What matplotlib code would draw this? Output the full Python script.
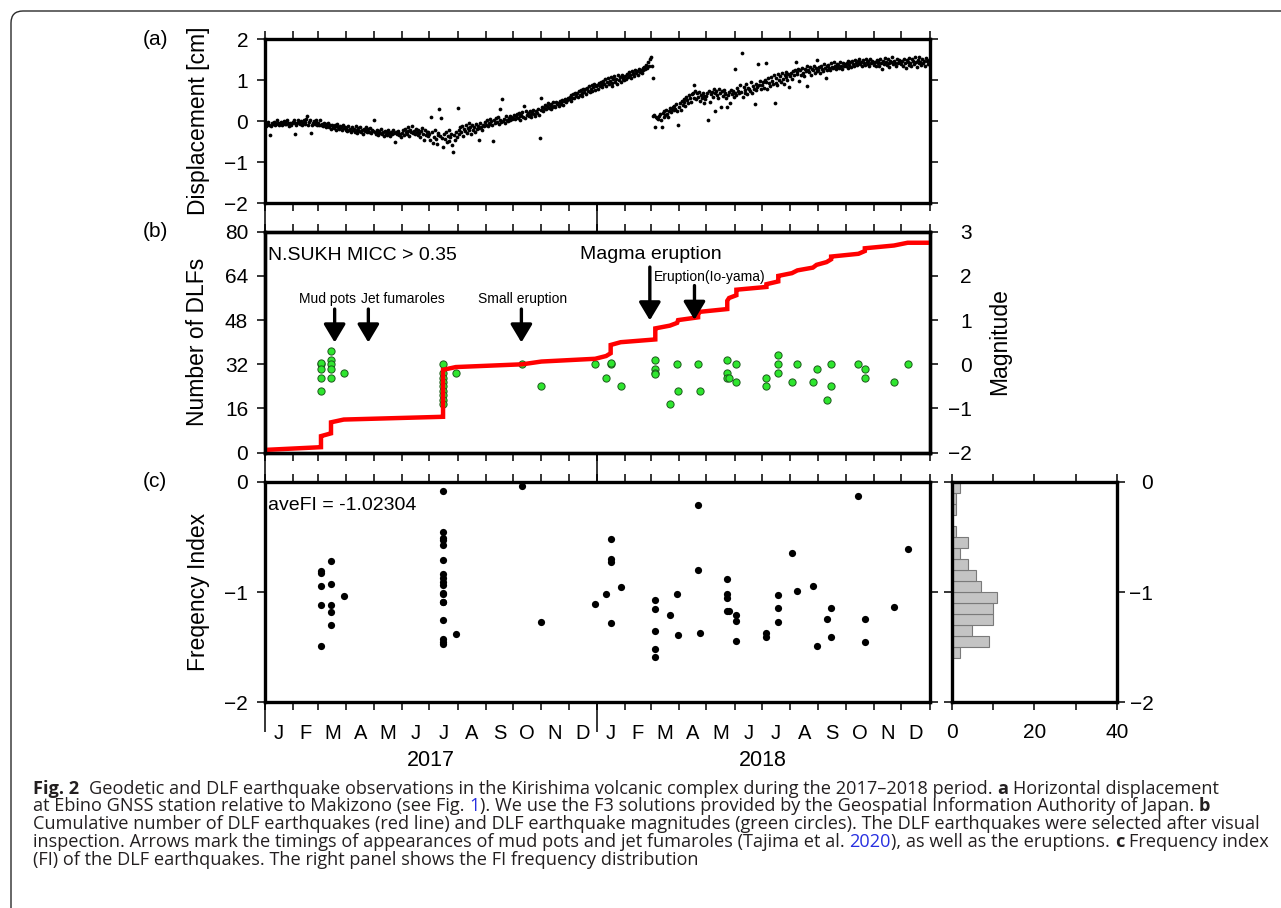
import numpy as np
import matplotlib
matplotlib.use("Agg")
import matplotlib.pyplot as plt
import matplotlib.dates as mdates
import matplotlib.transforms as mtransforms
from matplotlib.ticker import FixedLocator, NullFormatter
from matplotlib.patches import FancyBboxPatch

# ---------------------------------------------------------------- data
# (a) daily horizontal displacement [cm], one list per month
disp_2017_01 = [-0.10,-0.04,-0.12,-0.06,-0.02,-0.08,-0.33,-0.11,-0.03,-0.07,-0.01,-0.09,-0.04,-0.06,0.02,-0.05,-0.08,-0.03,-0.01,-0.10,-0.04,0.01,-0.06,-0.02,-0.07,0.03,-0.05,-0.12,-0.03,-0.08,-0.04]
disp_2017_02 = [-0.02,0.03,-0.05,-0.32,-0.08,-0.03,0.04,-0.01,-0.06,0.00,-0.10,-0.04,0.02,-0.07,-0.02,0.05,0.14,-0.09,-0.01,0.02,-0.28,-0.08,-0.03,0.01,-0.06,0.04,-0.02,-0.10]
disp_2017_03 = [-0.04,-0.08,0.02,-0.10,-0.06,-0.12,-0.03,-0.09,-0.14,-0.07,-0.11,-0.05,-0.15,-0.10,-0.18,-0.08,-0.13,-0.16,-0.09,-0.20,-0.12,-0.07,-0.15,-0.19,-0.11,-0.14,-0.22,-0.10,-0.17,-0.13,-0.20]
disp_2017_04 = [-0.16,-0.24,-0.12,-0.21,-0.18,-0.27,-0.14,-0.22,-0.19,-0.25,-0.11,-0.20,-0.28,-0.17,-0.23,-0.15,-0.26,-0.21,-0.30,-0.18,-0.24,-0.13,-0.22,-0.27,-0.19,-0.25,-0.16,-0.29,-0.21,-0.24]
disp_2017_05 = [0.04,-0.25,-0.30,-0.21,-0.28,-0.34,-0.24,-0.29,-0.19,-0.32,-0.26,-0.36,-0.23,-0.30,-0.27,-0.33,-0.22,-0.29,-0.35,-0.25,-0.31,-0.20,-0.28,-0.50,-0.26,-0.32,-0.29,-0.24,-0.34,-0.30,-0.38]
disp_2017_06 = [-0.28,-0.22,-0.33,-0.18,-0.26,-0.30,-0.15,-0.24,-0.35,-0.20,-0.27,-0.12,-0.29,-0.23,-0.31,-0.19,-0.26,-0.34,-0.21,-0.28,-0.38,-0.24,-0.17,-0.30,-0.45,-0.22,-0.33,-0.27,-0.36,-0.25]
disp_2017_07 = [-0.30,-0.45,0.10,-0.25,-0.52,-0.38,-0.20,-0.42,-0.55,-0.33,-0.28,0.30,-0.36,0.08,-0.40,-0.62,-0.31,-0.44,-0.26,-0.50,-0.35,-0.22,-0.47,-0.38,-0.30,-0.57,-0.75,-0.33,-0.46,-0.27,-0.39]
disp_2017_08 = [0.32,-0.22,-0.30,-0.15,-0.26,-0.12,-0.35,-0.19,-0.24,-0.10,-0.28,-0.17,-0.05,-0.22,-0.14,-0.30,-0.09,-0.20,-0.13,-0.25,-0.07,-0.18,-0.11,-0.45,-0.16,-0.04,-0.14,-0.21,-0.08,-0.12,-0.02]
disp_2017_09 = [-0.08,0.02,-0.12,-0.03,0.05,-0.07,0.00,-0.10,-0.48,0.03,-0.04,0.08,-0.01,0.11,-0.06,0.04,0.30,-0.02,0.55,0.01,0.06,-0.03,0.12,0.04,0.00,0.08,0.14,0.02,0.10,0.05]
disp_2017_10 = [0.08,0.15,0.05,0.12,0.18,0.09,0.20,0.14,0.03,0.16,0.22,0.11,0.38,0.07,0.24,0.15,0.21,0.12,0.26,0.17,0.10,0.23,0.28,0.18,0.14,0.25,0.20,0.30,0.16,-0.41,0.58]
disp_2017_11 = [0.28,0.35,0.25,0.32,0.40,0.30,0.37,0.44,0.33,0.39,0.29,0.42,0.36,0.46,0.38,0.34,0.48,0.41,0.45,0.37,0.50,0.43,0.47,0.52,0.40,0.49,0.55,0.46,0.51,0.58]
disp_2017_12 = [0.54,0.60,0.50,0.63,0.58,0.66,0.56,0.70,0.62,0.68,0.59,0.73,0.65,0.76,0.69,0.62,0.78,0.72,0.80,0.67,0.82,0.75,0.85,0.71,0.79,0.88,0.74,0.83,0.90,0.77,0.86]
disp_2018_01 = [0.88,0.80,0.93,0.85,0.97,0.90,0.83,0.99,0.92,1.03,0.87,0.95,1.05,0.91,0.98,1.08,0.94,0.86,1.02,1.10,0.96,1.04,0.92,1.12,1.00,1.07,0.97,1.14,1.03,1.09,1.01]
disp_2018_02 = [1.10,1.04,1.16,1.08,1.20,1.13,1.06,1.22,1.15,1.19,1.11,1.25,1.17,1.23,1.14,1.28,1.20,1.26,1.18,1.30,1.24,1.33,1.27,1.38,1.31,1.45,1.36,1.52]
disp_2018_03 = [1.58,1.35,1.05,0.12,0.15,-0.15,0.10,0.08,0.05,0.14,0.18,0.02,-0.14,0.20,0.11,0.24,0.16,0.28,0.19,0.10,0.26,0.33,0.22,0.30,0.36,0.27,0.38,0.31,0.42,0.25,-0.09]
disp_2018_04 = [0.35,0.45,0.28,0.50,0.40,0.55,0.47,0.38,0.60,0.52,0.44,0.63,0.56,0.48,0.66,0.70,0.58,0.88,0.75,0.54,0.68,0.60,0.72,0.50,0.65,0.58,0.70,0.45,0.62,0.55]
disp_2018_05 = [0.62,0.70,0.03,0.74,0.48,0.66,0.72,0.60,0.78,0.24,0.69,0.75,0.63,0.57,0.80,0.68,0.35,0.73,0.61,0.77,0.66,0.70,0.58,0.34,0.64,0.71,0.45,0.76,0.67,0.73,0.60]
disp_2018_06 = [0.70,1.28,0.64,0.82,0.74,0.68,0.88,0.72,1.66,0.60,0.84,0.76,0.70,0.90,0.66,0.82,0.78,0.74,0.95,0.70,0.86,0.80,0.42,0.76,0.92,0.84,1.40,0.88,0.98,0.80]
disp_2018_07 = [0.88,0.95,0.82,1.00,1.41,0.97,0.78,1.05,0.93,0.86,1.08,0.98,0.91,1.12,0.44,0.94,1.06,0.89,1.15,1.00,1.10,0.96,1.18,1.04,0.92,1.13,1.07,1.20,1.01,1.16,0.83]
disp_2018_08 = [1.10,1.18,1.04,1.22,1.12,1.26,1.44,1.20,1.15,1.28,0.98,1.24,1.14,1.30,1.19,1.11,1.27,1.22,1.35,0.87,1.25,1.20,1.32,1.13,1.28,1.24,1.36,1.18,1.30,1.22,1.50]
disp_2018_09 = [1.25,1.32,1.18,1.36,1.28,1.22,1.40,1.30,1.05,1.34,1.26,1.38,1.31,1.24,1.42,1.33,1.29,1.45,1.35,1.27,1.40,1.32,1.37,1.30,1.44,1.36,1.28,1.41,1.34,1.39]
disp_2018_10 = [1.36,1.42,1.31,1.46,1.38,1.44,1.33,1.48,1.40,1.35,1.50,1.42,1.37,1.47,1.41,1.52,1.39,1.45,1.34,1.49,1.43,1.38,1.51,1.44,1.40,1.47,1.36,1.53,1.42,1.48,1.45]
disp_2018_11 = [1.38,1.45,1.34,1.50,1.41,1.47,1.36,1.53,1.43,1.28,1.48,1.40,1.55,1.44,1.38,1.51,1.42,1.33,1.48,1.45,1.56,1.39,1.47,1.43,1.35,1.52,1.41,1.49,1.44,1.46]
disp_2018_12 = [1.40,1.48,1.36,1.53,1.43,1.31,1.50,1.45,1.38,1.55,1.42,1.34,1.51,1.46,1.39,1.56,1.44,1.32,1.49,1.41,1.58,1.45,1.37,1.52,1.43,1.48,1.35,1.54,1.46,1.40,1.50]

# (b)/(c) DLF events: date, frequency index, magnitude (nan = not shown)
event_dates = (["2017-03-04"] * 5 + ["2017-03-15"] * 5 + ["2017-03-29"] + ["2017-07-16"] * 18
               + ["2017-07-30", "2017-10-11", "2017-11-01", "2017-12-30", "2018-01-11"]
               + ["2018-01-16"] * 4 + ["2018-01-27"] + ["2018-03-06"] * 5
               + ["2018-03-22", "2018-03-30", "2018-03-31"] + ["2018-04-22"] * 2 + ["2018-04-24"]
               + ["2018-05-24"] * 4 + ["2018-05-26"] + ["2018-06-03"] * 3 + ["2018-07-06"] * 2
               + ["2018-07-19"] * 3 + ["2018-08-03", "2018-08-09", "2018-08-26", "2018-08-30", "2018-09-10"]
               + ["2018-09-15"] * 2 + ["2018-10-15"] + ["2018-10-22"] * 2 + ["2018-11-23", "2018-12-08"])
event_fi = [-0.81, -0.83, -0.95, -1.12, -1.49,
            -0.72, -0.93, -1.12, -1.18, -1.295,
            -1.04,
            -0.08, -0.46, -0.51, -0.53, -0.57, -0.71, -0.84, -0.87, -0.905, -0.94, -1.005, -1.02, -1.09, -1.09, -1.25, -1.43, -1.45, -1.47,
            -1.38, -0.04, -1.27, -1.105, -1.015,
            -0.52, -0.705, -0.73, -1.28,
            -0.955,
            -1.07, -1.15, -1.35, -1.52, -1.59,
            -1.21, -1.02, -1.39,
            -0.21, -0.805,
            -1.375,
            -0.885, -1.02, -1.05, -1.17,
            -1.17,
            -1.205, -1.26, -1.44,
            -1.37, -1.405,
            -1.03, -1.145, -1.27,
            -0.644, -0.99, -0.95, -1.49, -1.245,
            -1.145, -1.41,
            -0.133,
            -1.245, -1.45,
            -1.133, -0.61]
nan = float("nan")
event_mag = [0.0, 0.02, -0.1, -0.3, -0.6,
             0.3, 0.1, 0.0, -0.1, -0.3,
             -0.2,
             0.0, -0.2, -0.3, -0.4, -0.5, -0.6, -0.7, -0.8, -0.9, nan, nan, nan, nan, nan, nan, nan, nan, nan,
             -0.2, 0.0, -0.5, 0.0, -0.3,
             0.0, 0.02, nan, nan,
             -0.5,
             0.1, -0.1, -0.2, -0.22, nan,
             -0.9, 0.0, -0.6,
             0.0, nan,
             -0.6,
             0.1, -0.2, nan, -0.3,
             -0.3,
             0.0, -0.4, nan,
             -0.3, -0.5,
             0.2, 0.0, -0.2,
             -0.4, 0.0, -0.4, -0.1, -0.8,
             0.0, -0.5,
             0.0,
             -0.1, -0.3,
             -0.4, 0.0]
count_before_2017 = 1
ave_fi_text = "aveFI = -1.02304"

# arrows in panel (b)
arrow_labels = ["Mud pots", "Jet fumaroles", "Small eruption", "Magma eruption", "Eruption(Io-yama)"]
arrow_dates = ["2017-03-19", "2017-04-25", "2017-10-10", "2018-02-28", "2018-04-18"]

month_letters = ["J", "F", "M", "A", "M", "J", "J", "A", "S", "O", "N", "D"]
years = [2017, 2018]

caption_lines = [
    [("Fig. 2", True, "k"), ("  Geodetic and DLF earthquake observations in the Kirishima volcanic complex during the 2017\u20132018 period. ", False, "k"),
     ("a", True, "k"), (" Horizontal displacement", False, "k")],
    [("at Ebino GNSS station relative to Makizono (see Fig. ", False, "k"), ("1", False, "b"),
     ("). We use the F3 solutions provided by the Geospatial Information Authority of Japan. ", False, "k"), ("b", True, "k")],
    [("Cumulative number of DLF earthquakes (red line) and DLF earthquake magnitudes (green circles). The DLF earthquakes were selected after visual", False, "k")],
    [("inspection. Arrows mark the timings of appearances of mud pots and jet fumaroles (Tajima et al. ", False, "k"), ("2020", False, "b"),
     ("), as well as the eruptions. ", False, "k"), ("c", True, "k"), (" Frequency index", False, "k")],
    [("(FI) of the DLF earthquakes. The right panel shows the FI frequency distribution", False, "k")],
]

# ---------------------------------------------------------------- style
plt.rcParams["font.family"] = ["Liberation Sans", "DejaVu Sans"]
plt.rcParams["axes.unicode_minus"] = True
W, H = 1281, 908
fig = plt.figure(figsize=(W / 100, H / 100), dpi=100)
fig.patch.set_facecolor("white")

PX = 0.72          # points per pixel at 100 dpi
TICK_LEN = 8 * PX
TICK_W = 1.1
SPINE_W = 2.4
TICK_FS = 15
LABEL_FS = 16.5


def fx(p):
    return p / W


def fy(p):
    return 1 - p / H


def ax_rect(l, t, r, b):
    return [fx(l), fy(b), (r - l) / W, (b - t) / H]


def dnum(s):
    return mdates.date2num(np.datetime64(s))


L, R = 264.5, 929.5
ax_a = fig.add_axes(ax_rect(L, 39.3, R, 203.3))
ax_b = fig.add_axes(ax_rect(L, 231.7, R, 452.7))
ax_c = fig.add_axes(ax_rect(L, 481.7, R, 702.3))
ax_h = fig.add_axes(ax_rect(951.5, 481.7, 1117.3, 702.3))

year_starts = [dnum("2017-01-01"), dnum("2018-01-01")]
month_starts = [dnum(f"{y}-{m:02d}-01") for y in years for m in range(1, 13)] + [dnum("2019-01-01")]


def style_frame(ax):
    for sp in ax.spines.values():
        sp.set_linewidth(SPINE_W)
        sp.set_color("black")


def time_axis(ax, long_px):
    ax.set_xlim(dnum("2017-01-01"), dnum("2019-01-01"))
    ax.xaxis.set_major_locator(FixedLocator(year_starts))
    ax.xaxis.set_minor_locator(FixedLocator(month_starts))
    ax.xaxis.remove_overlapping_locs = False
    ax.xaxis.set_major_formatter(NullFormatter())
    ax.xaxis.set_minor_formatter(NullFormatter())
    ax.tick_params(axis="x", which="minor", direction="out", length=TICK_LEN, width=TICK_W,
                   top=True, bottom=True, labelbottom=False, labeltop=False)
    ax.tick_params(axis="x", which="major", direction="out", length=long_px * PX, width=TICK_W,
                   top=False, bottom=True, labelbottom=False, labeltop=False)
    style_frame(ax)


def y_axis(ax, lo, hi, ticks, left_labels=True, right=True):
    ax.set_ylim(lo, hi)
    ax.set_yticks(ticks)
    ax.tick_params(axis="y", which="major", direction="out", length=TICK_LEN, width=TICK_W,
                   left=True, right=right, labelleft=left_labels, labelright=False,
                   labelsize=TICK_FS, pad=6)


# ---------------------------------------------------------------- (a)
disp_months = [disp_2017_01, disp_2017_02, disp_2017_03, disp_2017_04, disp_2017_05, disp_2017_06,
               disp_2017_07, disp_2017_08, disp_2017_09, disp_2017_10, disp_2017_11, disp_2017_12,
               disp_2018_01, disp_2018_02, disp_2018_03, disp_2018_04, disp_2018_05, disp_2018_06,
               disp_2018_07, disp_2018_08, disp_2018_09, disp_2018_10, disp_2018_11, disp_2018_12]
disp_x, disp_y = [], []
for i, vals in enumerate(disp_months):
    y, m = years[i // 12], i % 12 + 1
    start = np.datetime64(f"{y}-{m:02d}-01")
    days = start + np.arange(len(vals))
    disp_x.extend(mdates.date2num(days))
    disp_y.extend(vals)
ax_a.plot(disp_x, disp_y, "o", ms=2.7, mew=0, color="black")
time_axis(ax_a, 28.4)
y_axis(ax_a, -2, 2, [-2, -1, 0, 1, 2])

# ---------------------------------------------------------------- (b)
ev_x = mdates.date2num(np.array(event_dates, dtype="datetime64[D]"))
counts = count_before_2017 + np.arange(1, len(ev_x) + 1)
line_x = np.concatenate([[dnum("2017-01-01")], ev_x, [dnum("2019-01-01")]])
line_y = np.concatenate([[count_before_2017], counts, [counts[-1]]])

ax_m = ax_b.twinx()
ax_b.set_zorder(3)
ax_m.set_zorder(2)
ax_b.patch.set_visible(False)
mag = np.array(event_mag)
ax_m.plot(ev_x, mag, "o", ms=5.2, mfc="#2ee62e", mec="#1d5a1d", mew=0.7, ls="none")
ax_b.plot(line_x, line_y, "-", color="#ff0000", lw=3.2, solid_joinstyle="miter")
time_axis(ax_b, 29)
y_axis(ax_b, 0, 80, [0, 16, 32, 48, 64, 80], right=False)
ax_m.set_ylim(-2, 3)
ax_m.set_yticks([-2, -1, 0, 1, 2, 3])
ax_m.tick_params(axis="y", direction="out", length=TICK_LEN, width=TICK_W, left=False, right=True,
                 labelleft=False, labelright=True, labelsize=TICK_FS, pad=34 * PX)
for lb in ax_m.get_yticklabels():
    lb.set_horizontalalignment("right")
style_frame(ax_m)

ax_b.text(0.005, 0.894, "N.SUKH MICC > 0.35", transform=ax_b.transAxes, fontsize=14,
          ha="left", va="center")

arrow_spans = [(52.0, 39.9), (52.0, 39.9), (52.0, 39.9), (67.2, 47.9), (60.5, 48.1)]
label_pos = [("2017-02-08", 55.7, 10), ("2017-04-17", 55.7, 10), ("2017-08-23", 55.7, 10),
             ("2017-12-13", 71.8, 14), ("2018-03-04", 63.5, 10)]
for lab, d, (y0, y1), (ld, ly, fs) in zip(arrow_labels, arrow_dates, arrow_spans, label_pos):
    xd = dnum(d)
    ax_b.annotate("", xy=(xd, y1), xytext=(xd, y0),
                  arrowprops=dict(arrowstyle="-|>,head_width=0.33,head_length=0.55", lw=2.4,
                                  color="black", mutation_scale=20, shrinkA=0, shrinkB=0))
    ax_b.text(dnum(ld), ly, lab, fontsize=fs, ha="left", va="center")

# ---------------------------------------------------------------- (c)
ax_c.plot(ev_x, event_fi, "o", ms=5.2, mew=0, color="black", ls="none")
time_axis(ax_c, 30)
y_axis(ax_c, -2, 0, [-2, -1, 0])
ax_c.text(0.005, 0.894, ave_fi_text, transform=ax_c.transAxes, fontsize=14, ha="left", va="center")

# month letters and years
trans_c = mtransforms.blended_transform_factory(ax_c.transData, fig.transFigure)
for yi, y in enumerate(years):
    for m in range(12):
        a = np.datetime64(f"{y}-{m + 1:02d}-01")
        b = np.datetime64(f"{y + (m == 11)}-{(m + 1) % 12 + 1:02d}-01")
        mid = (mdates.date2num(a) + mdates.date2num(b)) / 2
        fig.text(mid, fy(739), month_letters[m], transform=trans_c, fontsize=14.5,
                 ha="center", va="baseline")
    ymid = (dnum(f"{y}-01-01") + dnum(f"{y + 1}-01-01")) / 2
    fig.text(ymid, fy(766), str(y), transform=trans_c, fontsize=15.5, ha="center", va="baseline")

# ---------------------------------------------------------------- histogram
ax_h.hist(event_fi, bins=np.linspace(-2, 0, 21), orientation="horizontal",
          color="#c4c4c4", edgecolor="#7a7a7a", linewidth=0.8)
ax_h.set_xlim(0, 40)
ax_h.set_ylim(-2, 0)
ax_h.set_xticks([0, 20, 40])
ax_h.set_xticks([10, 30], minor=True)
ax_h.tick_params(axis="x", which="both", direction="out", length=TICK_LEN, width=TICK_W,
                 top=True, bottom=True, labelbottom=True, labeltop=False, labelsize=TICK_FS, pad=9)
ax_h.set_yticks([-2, -1, 0])
ax_h.tick_params(axis="y", direction="out", length=TICK_LEN, width=TICK_W, left=True, right=True,
                 labelleft=False, labelright=True, labelsize=TICK_FS, pad=28 * PX)
for lb in ax_h.get_yticklabels():
    lb.set_horizontalalignment("right")
style_frame(ax_h)

# ---------------------------------------------------------------- labels
for txt, yc in [("(a)", 39.3), ("(b)", 231.7), ("(c)", 481.7)]:
    fig.text(fx(155), fy(yc), txt, fontsize=15, ha="center", va="center")
fig.text(fx(198), fy(121), "Displacement [cm]", rotation=90, fontsize=LABEL_FS, ha="center", va="center")
fig.text(fx(198), fy(342), "Number of DLFs", rotation=90, fontsize=LABEL_FS, ha="center", va="center")
fig.text(fx(198), fy(592), "Freqency Index", rotation=90, fontsize=LABEL_FS, ha="center", va="center")
fig.text(fx(1000), fy(342), "Magnitude", rotation=90, fontsize=LABEL_FS, ha="center", va="center")

# ---------------------------------------------------------------- frame box
box = FancyBboxPatch((11, -200), 1600, H - 11 + 200, boxstyle="round,pad=0,rounding_size=12",
                     transform=mtransforms.IdentityTransform(), fill=False, edgecolor="#2a2a2a", lw=1.0)
fig.add_artist(box)

# ---------------------------------------------------------------- caption
CAP_FONT = ["Open Sans", "DejaVu Sans"]
CAP_LEFT, CAP_RIGHT = 33, 1257
CAP_BASE = [793.5, 811.3, 829.1, 846.9, 864.7]
cap_colors = {"k": "#231f20", "b": "#2830e0"}
renderer = fig.canvas.get_renderer()


def text_width(s, size, bold=False):
    t = fig.text(0, 0, s, fontsize=size, fontweight="bold" if bold else "normal", family=CAP_FONT)
    w = t.get_window_extent(renderer=renderer).width
    t.remove()
    return w


cap_size = 12.0
cap_size *= (CAP_RIGHT - CAP_LEFT) / text_width(caption_lines[2][0][0], cap_size)
space_w = text_width("x x", cap_size) - text_width("xx", cap_size)

for runs, base in zip(caption_lines, CAP_BASE):
    x = CAP_LEFT
    for s, bold, col in runs:
        lead = len(s) - len(s.lstrip(" "))
        trail = len(s) - len(s.rstrip(" "))
        core = s.strip(" ")
        x += lead * space_w
        if core:
            t = fig.text(fx(x), fy(base), core, fontsize=cap_size, fontweight="bold" if bold else "normal",
                         color=cap_colors[col], family=CAP_FONT, ha="left", va="baseline")
            x += t.get_window_extent(renderer=renderer).width
        x += trail * space_w

fig.savefig("out.png", dpi=100, facecolor="white")
